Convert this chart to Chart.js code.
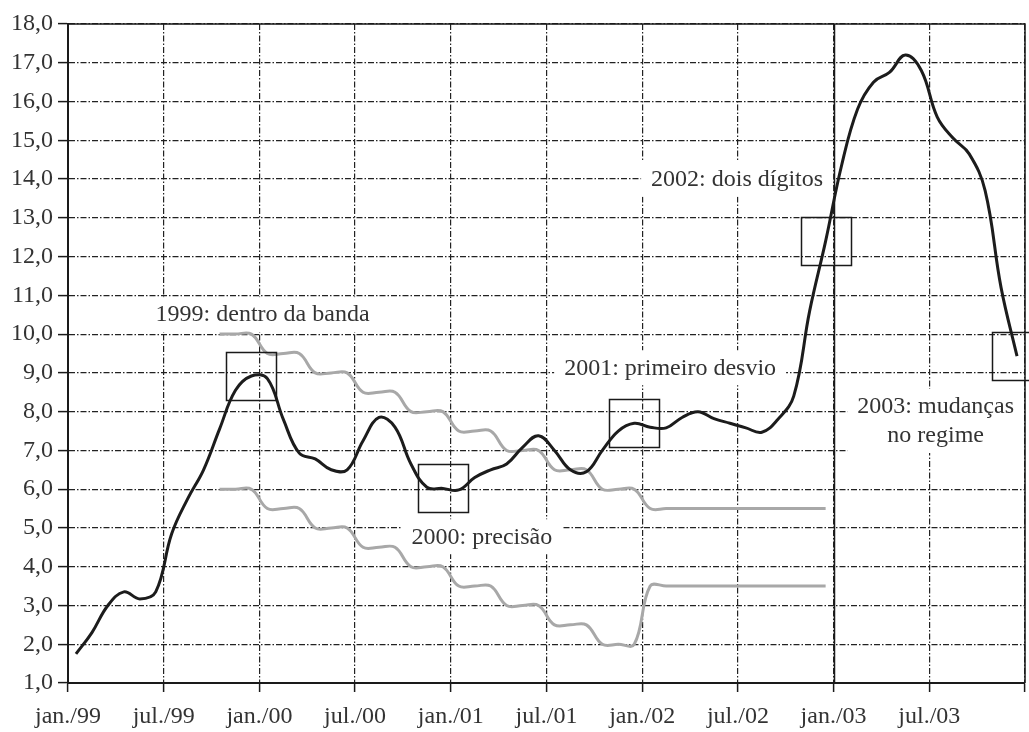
<!DOCTYPE html>
<html>
<head>
<meta charset="utf-8">
<script src="https://cdn.jsdelivr.net/npm/chart.js@4"></script>
<style>
  html, body { margin: 0; padding: 0; background: #fff; }
  .chart-container { width: 1029px; height: 732px; position: relative; }
</style>
</head>
<body>
<div class="chart-container"><canvas id="ipcaChart"></canvas></div>
<script>
// months jan/99 .. dez/03, one value per month
const xTickLabels = ["jan./99", "jul./99", "jan./00", "jul./00", "jan./01", "jul./01",
  "jan./02", "jul./02", "jan./03", "jul./03", ""];

const ipca = [
  1.75, 2.3, 3.0, 3.35, 3.17, 3.35, 4.85, 5.75, 6.5, 7.55, 8.55, 8.92,
  8.85, 7.8, 6.93, 6.78, 6.5, 6.5, 7.25, 7.85, 7.6, 6.65, 6.05, 6.02,
  5.98, 6.3, 6.5, 6.65, 7.08, 7.38, 7.0, 6.5, 6.45, 7.0, 7.5, 7.7,
  7.6, 7.58, 7.85, 8.0, 7.82, 7.7, 7.58, 7.47, 7.8, 8.4, 10.6, 12.4,
  14.35, 15.8, 16.5, 16.75, 17.2, 16.8, 15.6, 15.05, 14.65, 13.7, 11.2, 9.43
];

const upperBand = [
  null, null, null, null, null, null, null, null, null, 10.0, 10.0, 10.0,
  9.5, 9.5, 9.5, 9.0, 9.0, 9.0, 8.5, 8.5, 8.5, 8.0, 8.0, 8.0,
  7.5, 7.5, 7.5, 7.0, 7.0, 7.0, 6.5, 6.5, 6.5, 6.0, 6.0, 6.0,
  5.5, 5.5, 5.5, 5.5, 5.5, 5.5, 5.5, 5.5, 5.5, 5.5, 5.5, 5.5,
  null, null, null, null, null, null, null, null, null, null, null, null
];

const lowerBand = [
  null, null, null, null, null, null, null, null, null, 6.0, 6.0, 6.0,
  5.5, 5.5, 5.5, 5.0, 5.0, 5.0, 4.5, 4.5, 4.5, 4.0, 4.0, 4.0,
  3.5, 3.5, 3.5, 3.0, 3.0, 3.0, 2.5, 2.5, 2.5, 2.0, 2.0, 2.0,
  3.5, 3.5, 3.5, 3.5, 3.5, 3.5, 3.5, 3.5, 3.5, 3.5, 3.5, 3.5,
  null, null, null, null, null, null, null, null, null, null, null, null
];

// december of each year gets a box
const boxedMonths = [11, 23, 35, 47, 59];

const noteTexts = [
  ["1999: dentro da banda"],
  ["2000: precisão"],
  ["2001: primeiro desvio"],
  ["2002: dois dígitos"],
  ["2003: mudanças", "no regime"]
];

function toPoints(values) {
  return values.map((v, i) => ({ x: i + 0.5, y: v }));
}

document.addEventListener("DOMContentLoaded", function () {
  const ctx = document.getElementById("ipcaChart").getContext("2d");
  const font = "24px 'Liberation Serif'";
  const ink = "#1a1a1a";
  const notePlaces = [[12.2, 10.49], [25.95, 4.76], [37.75, 9.12], [41.95, 13.98], [54.4, 8.12]];
  const lineGap = 29;

  const decorations = {
    id: "decorations",
    beforeDatasetsDraw(chart) {
      const { ctx, chartArea, scales: { x, y } } = chart;
      ctx.save();
      ctx.font = font;
      ctx.fillStyle = "#fff";
      noteTexts.forEach((lines, i) => {
        const cx = x.getPixelForValue(notePlaces[i][0]);
        const cy = y.getPixelForValue(notePlaces[i][1]);
        const w = Math.max(...lines.map((l) => ctx.measureText(l).width));
        ctx.fillRect(cx - w / 2 - 10, cy - 18, w + 20, (lines.length - 1) * lineGap + 35);
      });
      // frame top/right and the jan/03 divider
      ctx.strokeStyle = ink;
      ctx.lineWidth = 1.5;
      ctx.beginPath();
      ctx.moveTo(chartArea.left, chartArea.top);
      ctx.lineTo(chartArea.right, chartArea.top);
      ctx.lineTo(chartArea.right, chartArea.bottom);
      const xd = Math.round(x.getPixelForValue(48)) + 0.5;
      ctx.moveTo(xd, chartArea.top);
      ctx.lineTo(xd, chartArea.bottom);
      ctx.stroke();
      ctx.restore();
    },
    afterDatasetsDraw(chart) {
      const { ctx, scales: { x, y } } = chart;
      ctx.save();
      ctx.strokeStyle = ink;
      ctx.lineWidth = 1.5;
      boxedMonths.forEach((m) => {
        const px = x.getPixelForValue(m + 0.5);
        const py = y.getPixelForValue(ipca[m]);
        ctx.strokeRect(Math.round(px - 25) + 0.5, Math.round(py - 24) + 0.5, 50, 48);
      });
      ctx.font = font;
      ctx.fillStyle = "#333";
      ctx.textAlign = "center";
      ctx.textBaseline = "middle";
      noteTexts.forEach((lines, i) => {
        const cx = x.getPixelForValue(notePlaces[i][0]);
        const cy = y.getPixelForValue(notePlaces[i][1]);
        lines.forEach((l, k) => ctx.fillText(l, cx, cy + k * lineGap));
      });
      ctx.restore();
    },
  };

  new Chart(ctx, {
    type: "line",
    data: {
      datasets: [
        {
          label: "IPCA",
          data: toPoints(ipca),
          borderColor: "#1c1c1c",
          borderWidth: 3,
          tension: 0.4,
          pointRadius: 0,
        },
        {
          label: "Limite superior",
          data: toPoints(upperBand),
          borderColor: "#a8a8a8",
          borderWidth: 3,
          tension: 0.4,
          pointRadius: 0,
          spanGaps: false,
        },
        {
          label: "Limite inferior",
          data: toPoints(lowerBand),
          borderColor: "#a8a8a8",
          borderWidth: 3,
          tension: 0.4,
          pointRadius: 0,
          spanGaps: false,
        },
      ],
    },
    options: {
      responsive: true,
      maintainAspectRatio: false,
      animation: false,
      layout: { padding: { top: 24, right: 4, left: 0, bottom: 0 } },
      plugins: {
        legend: { display: false },
        tooltip: { enabled: false },
      },
      scales: {
        x: {
          type: "linear",
          min: 0,
          max: 60,
          afterFit: (scale) => {
            scale.height = 49;
            scale.paddingRight = 0;
            scale.paddingLeft = 0;
          },
          afterBuildTicks: (scale) => {
            scale.ticks = xTickLabels.map((_, i) => ({ value: i * 6 }));
          },
          grid: {
            color: "#222",
            lineWidth: 1.2,
            tickLength: 9,
            tickColor: ink,
            tickWidth: 1.5,
            tickBorderDash: [],
          },
          border: { color: ink, width: 2, dash: [6, 2, 1.5, 2] },
          ticks: {
            autoSkip: false,
            maxRotation: 0,
            padding: 10,
            color: "#333",
            font: { family: "'Liberation Serif'", size: 24 },
            callback: (v) => xTickLabels[Math.round(v / 6)],
          },
        },
        y: {
          min: 1,
          max: 18,
          afterFit: (scale) => { scale.width = 68; },
          grid: {
            color: "#222",
            lineWidth: 1.2,
            tickLength: 10,
            tickColor: ink,
            tickWidth: 1.5,
            tickBorderDash: [],
          },
          border: { color: ink, width: 2, dash: [6, 2, 1.5, 2] },
          ticks: {
            stepSize: 1,
            padding: 5,
            color: "#333",
            font: { family: "'Liberation Serif'", size: 24 },
            callback: (v) => v.toFixed(1).replace(".", ","),
          },
        },
      },
    },
    plugins: [decorations],
  });
});
</script>
</body>
</html>
